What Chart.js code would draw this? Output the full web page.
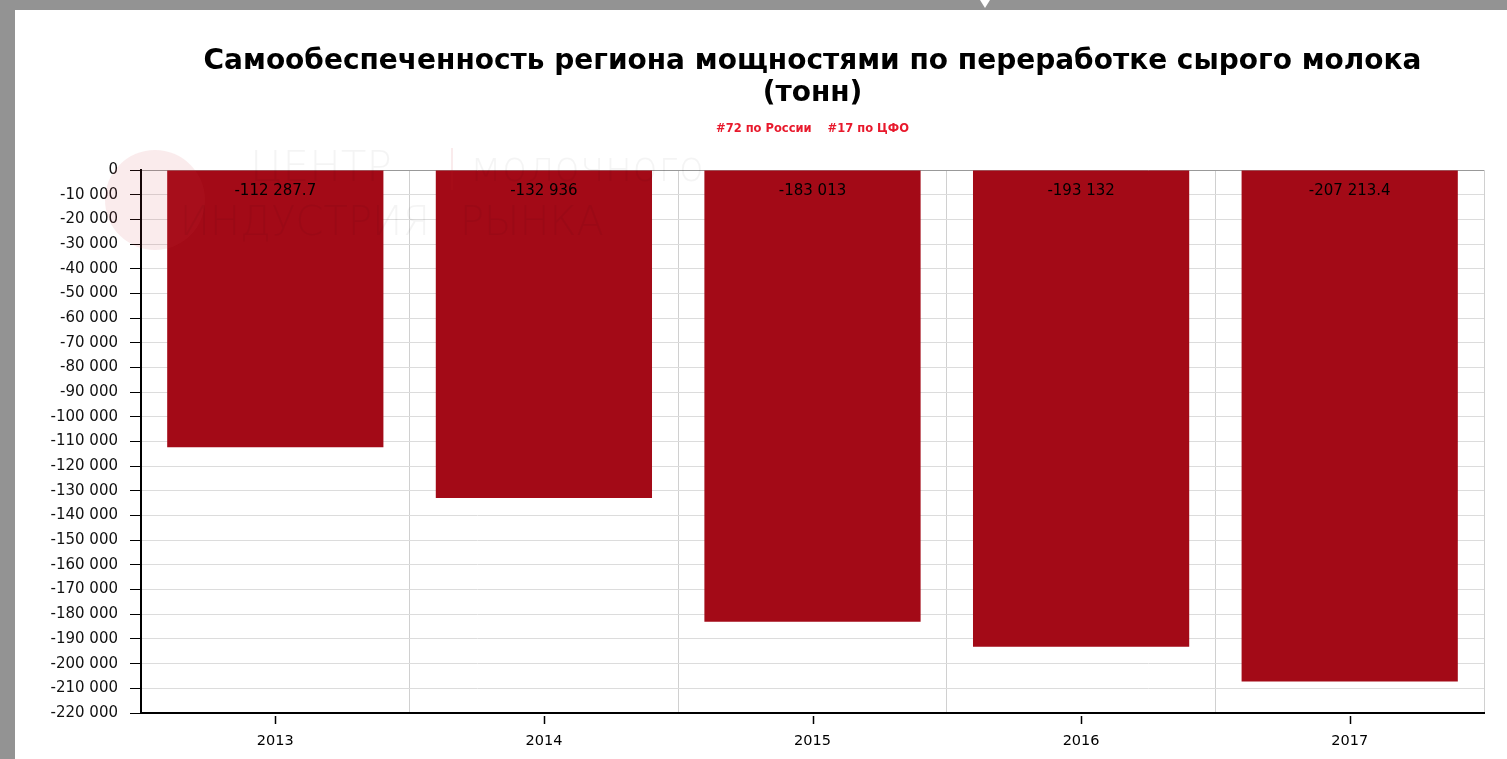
<!DOCTYPE html>
<html>
<head>
<meta charset="utf-8">
<script src="https://cdn.jsdelivr.net/npm/chart.js@4.4.1/dist/chart.umd.min.js"></script>
<style>
  html, body { margin: 0; padding: 0; background: #939393; width: 1507px; height: 759px; overflow: hidden; }
  #frame { position: absolute; left: 15px; top: 10px; width: 1492px; height: 749px; background: #fff; }
  #notch { position: absolute; left: 980px; top: 0; width: 0; height: 0;
           border-left: 5px solid transparent; border-right: 5px solid transparent; border-top: 8px solid #fff; }
  canvas { display: block; }
</style>
</head>
<body>
<div id="frame"><canvas id="c" width="1492" height="749"></canvas></div>
<div id="notch"></div>
<script>
const titleLines = ['Самообеспеченность региона мощностями по переработке сырого молока', '(тонн)'];
const subtitleText = '#72 по России    #17 по ЦФО';
const categories = ['2013', '2014', '2015', '2016', '2017'];
const values = [-112287.7, -132936, -183013, -193132, -207213.4];
const yMin = -220000;
const yMax = 0;
const yStep = 10000;

const FONT = "'DejaVu Sans', Verdana, sans-serif";

function fmt(v) {
  const neg = v < 0;
  const a = Math.abs(v);
  let [i, d] = String(a).split('.');
  i = i.replace(/\B(?=(\d{3})+(?!\d))/g, ' ');
  return (neg ? '-' : '') + i + (d ? '.' + d : '');
}

const watermark = {
  id: 'watermark',
  afterDatasetsDraw(chart) {
    const ctx = chart.ctx;
    const a = chart.chartArea;
    ctx.save();
    ctx.fillStyle = 'rgba(210, 60, 70, 0.10)';
    ctx.beginPath();
    ctx.arc(a.left + 14, a.top + 30, 50, 0, Math.PI * 2);
    ctx.fill();
    ctx.strokeStyle = 'rgba(200, 40, 50, 0.12)';
    ctx.lineWidth = 1.5;
    ctx.beginPath();
    ctx.moveTo(a.left + 311, a.top - 22);
    ctx.lineTo(a.left + 311, a.top + 20);
    ctx.stroke();
    ctx.fillStyle = 'rgba(0,0,0,0.045)';
    ctx.textBaseline = 'middle';
    ctx.font = "200 42px " + FONT;
    ctx.textAlign = 'left';
    ctx.fillText('ЦЕНТР', a.left + 109, a.top + 0);
    ctx.fillText('молочного', a.left + 329, a.top + 0);
    ctx.font = "200 40px " + FONT;
    ctx.textAlign = 'right';
    ctx.fillText('ИНДУСТРИЯ', a.left + 289, a.top + 55);
    ctx.textAlign = 'left';
    ctx.fillText('РЫНКА', a.left + 319, a.top + 55);
    ctx.restore();
  }
};

const barLabels = {
  id: 'barLabels',
  afterDatasetsDraw(chart) {
    const ctx = chart.ctx;
    const meta = chart.getDatasetMeta(0);
    ctx.save();
    ctx.fillStyle = '#000';
    ctx.font = "15px " + FONT;
    ctx.textAlign = 'center';
    ctx.textBaseline = 'middle';
    meta.data.forEach((el, i) => {
      ctx.fillText(fmt(values[i]), el.x, el.base + 21);
    });
    ctx.restore();
  }
};

const xTickMarks = {
  id: 'xTickMarks',
  afterDraw(chart) {
    const ctx = chart.ctx;
    const x = chart.scales.x;
    ctx.save();
    ctx.strokeStyle = '#000';
    ctx.lineWidth = 1.5;
    categories.forEach((c, i) => {
      const px = Math.round(x.getPixelForTick(i)) + 0.5;
      ctx.beginPath();
      ctx.moveTo(px, x.top + 3);
      ctx.lineTo(px, x.top + 11);
      ctx.stroke();
    });
    ctx.restore();
  }
};

new Chart(document.getElementById('c'), {
  type: 'bar',
  data: {
    labels: categories,
    datasets: [{
      data: values,
      backgroundColor: '#a30a17',
      borderWidth: 0,
      barPercentage: 1,
      categoryPercentage: 0.805
    }]
  },
  options: {
    responsive: false,
    animation: false,
    devicePixelRatio: 1,
    layout: { padding: { top: 0, right: 23, bottom: 0, left: 0 } },
    plugins: {
      legend: { display: false },
      tooltip: { enabled: false },
      title: {
        display: true,
        fullSize: false,
        text: titleLines,
        color: '#000',
        font: { family: FONT, size: 28, weight: 'bold', lineHeight: '32px' },
        padding: { top: 36, bottom: 0 }
      },
      subtitle: {
        display: true,
        fullSize: false,
        text: subtitleText,
        color: '#e8192c',
        font: { family: FONT, size: 11.5, weight: 'bold', lineHeight: '14px' },
        padding: { top: 12, bottom: 34 }
      }
    },
    scales: {
      x: {
        afterFit(s) { s.height = 46; },
        grid: { color: '#d0d0d0', drawTicks: false, offset: true },
        border: { color: '#000', width: 2 },
        ticks: { color: '#000', font: { family: FONT, size: 14.5 }, padding: 20 }
      },
      y: {
        min: yMin,
        max: yMax,
        afterFit(s) { s.width = 126; },
        grid: {
          color: (c) => c.tick && c.tick.value === 0 ? '#999' : '#dcdcdc',
          tickColor: '#000',
          tickLength: 11
        },
        border: { color: '#000', width: 2 },
        ticks: {
          stepSize: yStep,
          color: '#111',
          padding: 12,
          font: { family: FONT, size: 15 },
          callback: (v) => fmt(v)
        }
      }
    }
  },
  plugins: [watermark, barLabels, xTickMarks]
});
</script>
</body>
</html>
